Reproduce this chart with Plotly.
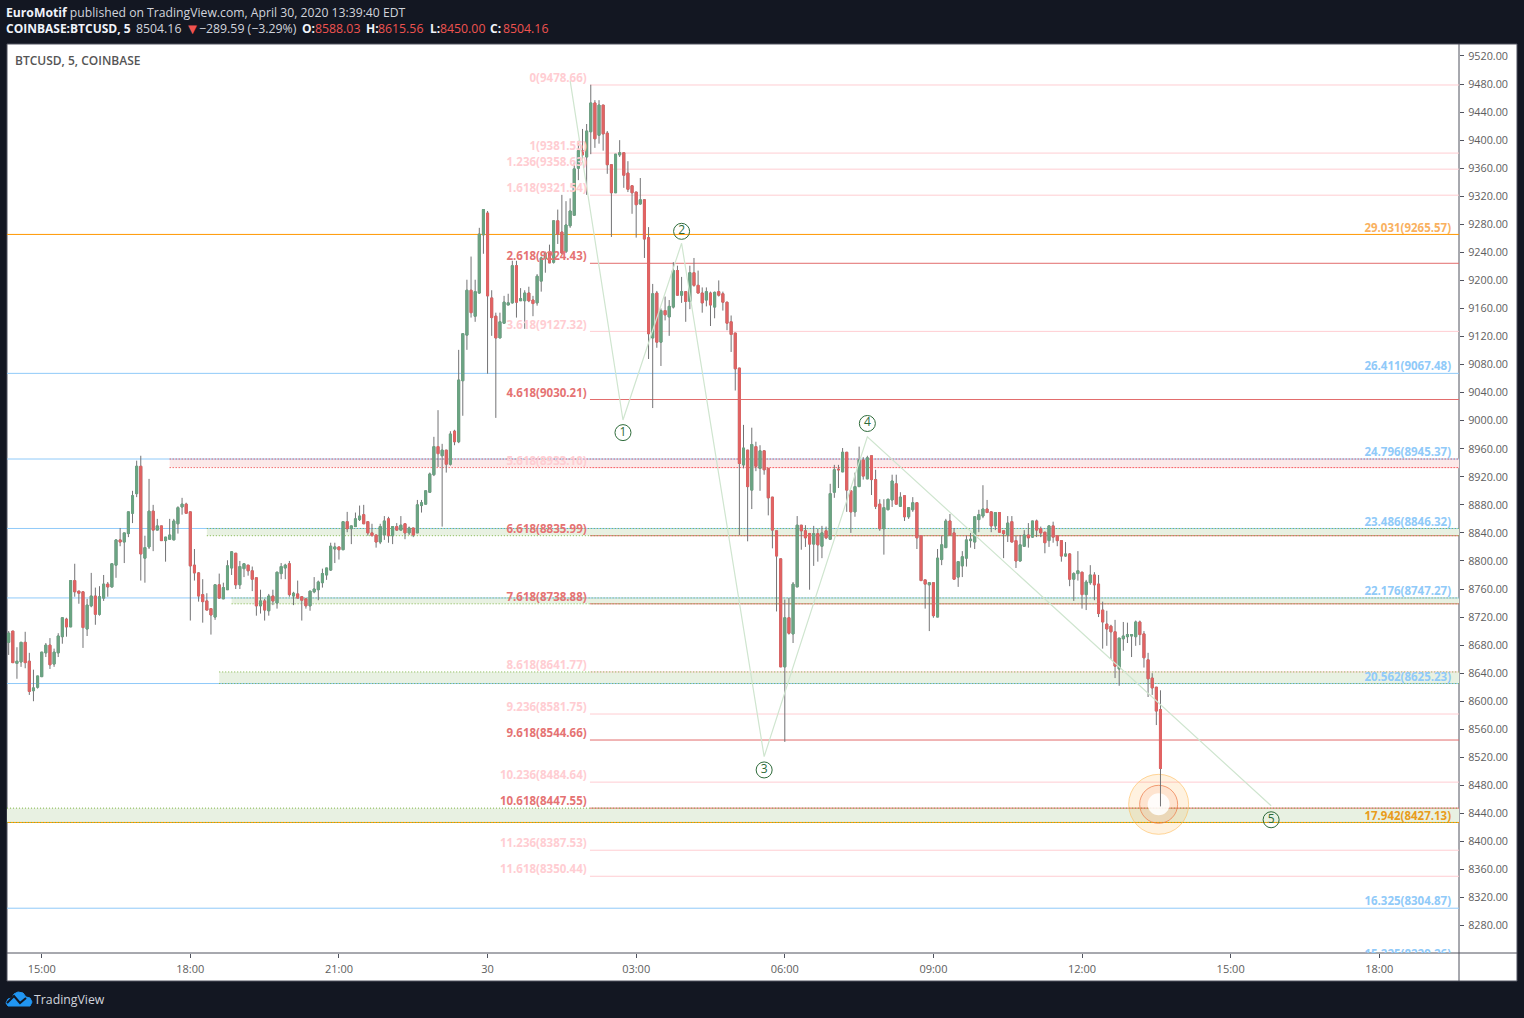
import pandas as pd
import plotly.graph_objects as go

opens = [8684,8700,8654,8656,8684,8657,8615,8620,8635,8669,
 8680,8653,8669,8692,8717,8706,8772,8757,8756,8703,
 8736,8750,8724,8747,8767,8763,8794,8830,8827,8839,
 8868,8896,8935,8804,8820,8871,8844,8850,8829,8831,
 8830,8853,8877,8881,8870,8794,8783,8752,8743,8732,
 8720,8766,8746,8759,8790,8811,8766,8789,8794,8786,
 8776,8736,8743,8729,8750,8740,8782,8790,8796,8750,
 8753,8749,8746,8736,8756,8759,8769,8780,8787,8817,
 8820,8816,8856,8846,8849,8859,8866,8856,8840,8837,
 8827,8837,8860,8836,8849,8844,8853,8840,8847,8840,
 8879,8881,8898,8923,8963,8950,8958,8938,8985,8970,
 9057,9122,9186,9149,9182,9265,9296,9175,9149,9118,
 9139,9165,9168,9221,9171,9171,9182,9172,9168,9199,
 9231,9239,9226,9285,9269,9241,9278,9293,9360,9385,
 9376,9412,9453,9407,9450,9410,9365,9325,9379,9382,
 9353,9335,9326,9309,9315,9261,9118,9182,9112,9157,
 9148,9162,9214,9179,9184,9170,9211,9193,9182,9172,
 9182,9162,9184,9181,9169,9141,9125,9075,8937,8958,
 8901,8963,8932,8957,8932,8891,8843,8803,8649,8719,
 8696,8763,8851,8843,8839,8824,8839,8821,8843,8831,
 8898,8931,8927,8955,8900,8870,8906,8944,8917,8950,
 8916,8881,8846,8873,8887,8910,8878,8893,8863,8873,
 8883,8836,8773,8766,8769,8720,8802,8819,8857,8840,
 8777,8793,8804,8829,8827,8859,8864,8874,8870,8850,
 8869,8843,8837,8856,8829,8800,8821,8837,8834,8857,
 8846,8841,8829,8850,8836,8829,8807,8810,8774,8782,
 8784,8752,8769,8780,8767,8730,8710,8707,8699,8646,
 8689,8692,8693,8692,8713,8696,8659,8633,8620,8588.03]
highs = [8700,8700,8677,8684,8699,8669,8645,8636,8670,8683,
 8690,8675,8697,8720,8719,8772,8796,8757,8756,8746,
 8783,8762,8764,8780,8770,8796,8830,8847,8840,8870,
 8900,8943,8950,8836,8917,8880,8860,8850,8834,8860,
 8860,8878,8890,8883,8870,8817,8784,8774,8754,8732,
 8766,8782,8769,8801,8814,8811,8800,8796,8794,8792,
 8776,8759,8746,8753,8759,8784,8797,8796,8800,8756,
 8772,8749,8746,8757,8777,8772,8789,8790,8826,8826,
 8820,8856,8870,8850,8869,8879,8880,8856,8853,8837,
 8853,8864,8863,8849,8854,8864,8853,8849,8847,8887,
 8887,8900,8926,8977,9015,8967,8958,8985,8987,9101,
 9124,9201,9234,9201,9275,9301,9299,9186,9154,9154,
 9178,9181,9228,9228,9189,9186,9191,9178,9209,9234,
 9241,9251,9285,9301,9322,9313,9317,9368,9399,9416,
 9423,9479,9457,9457,9450,9413,9366,9380,9400,9382,
 9370,9335,9326,9346,9316,9276,9195,9185,9160,9177,
 9172,9226,9221,9205,9184,9221,9232,9214,9190,9190,
 9184,9184,9200,9184,9169,9150,9125,9075,8994,8958,
 8990,8970,8965,8957,8932,8891,8843,8803,8745,8747,
 8770,8864,8851,8851,8840,8850,8846,8850,8849,8910,
 8937,8937,8961,8955,8900,8926,8963,8948,8950,8950,
 8930,8888,8888,8888,8923,8923,8898,8893,8876,8891,
 8883,8836,8773,8770,8769,8817,8836,8860,8867,8847,
 8799,8814,8836,8840,8863,8873,8908,8887,8870,8869,
 8869,8843,8864,8864,8836,8837,8844,8854,8857,8859,
 8849,8841,8850,8856,8836,8829,8827,8811,8784,8814,
 8784,8773,8794,8784,8780,8742,8729,8709,8716,8690,
 8713,8712,8695,8715,8715,8700,8669,8640,8620,8615.56]
lows = [8666,8655,8632,8649,8647,8609,8600,8618,8635,8663,
 8646,8649,8663,8682,8692,8706,8749,8739,8676,8693,
 8734,8709,8722,8743,8749,8762,8776,8821,8797,8834,
 8854,8891,8772,8769,8817,8814,8844,8829,8799,8831,
 8830,8839,8866,8867,8715,8772,8742,8712,8730,8695,
 8716,8746,8746,8759,8780,8760,8760,8777,8779,8757,
 8722,8725,8715,8722,8737,8732,8774,8774,8749,8737,
 8747,8715,8732,8729,8754,8744,8762,8773,8786,8797,
 8802,8816,8841,8824,8849,8857,8853,8836,8836,8819,
 8824,8830,8826,8824,8843,8844,8831,8837,8834,8840,
 8869,8881,8897,8921,8934,8849,8926,8936,8965,8968,
 9007,9101,9147,9141,9181,9238,9067,9121,9004,9118,
 9139,9165,9167,9147,9171,9131,9169,9149,9164,9184,
 9211,9225,9224,9252,9238,9239,9275,9293,9343,9368,
 9322,9380,9389,9395,9385,9352,9262,9325,9376,9332,
 9326,9295,9261,9308,9232,9088,9018,9104,9078,9143,
 9121,9160,9179,9168,9141,9159,9191,9182,9154,9163,
 9135,9146,9177,9157,9129,9098,9043,8837,8932,8828,
 8874,8928,8900,8923,8865,8818,8728,8649,8542,8695,
 8683,8763,8816,8820,8759,8793,8799,8804,8831,8831,
 8890,8904,8927,8870,8840,8863,8906,8916,8917,8894,
 8874,8843,8809,8873,8877,8881,8877,8857,8860,8870,
 8817,8772,8732,8700,8719,8720,8794,8819,8836,8774,
 8763,8777,8792,8819,8817,8841,8861,8869,8841,8844,
 8841,8804,8827,8827,8790,8799,8820,8819,8833,8834,
 8834,8811,8820,8826,8821,8799,8806,8764,8743,8772,
 8732,8730,8766,8744,8720,8675,8679,8660,8633,8622,
 8672,8683,8663,8679,8680,8648,8606,8609,8566,8450]
closes = [8697,8655,8657,8684,8655,8614,8619,8636,8670,8680,
 8652,8670,8693,8719,8706,8772,8756,8754,8705,8737,
 8750,8724,8749,8767,8763,8796,8830,8827,8840,8870,
 8893,8935,8810,8819,8871,8844,8850,8829,8834,8837,
 8857,8876,8881,8868,8793,8783,8750,8742,8730,8723,
 8766,8747,8762,8793,8813,8766,8792,8796,8786,8774,
 8736,8743,8730,8750,8743,8784,8792,8794,8752,8754,
 8747,8744,8736,8757,8760,8770,8782,8790,8821,8820,
 8816,8856,8846,8850,8860,8864,8853,8840,8836,8827,
 8849,8857,8836,8849,8844,8851,8840,8847,8837,8880,
 8883,8900,8924,8963,8953,8958,8938,8981,8970,9058,
 9124,9186,9154,9184,9266,9301,9178,9147,9118,9141,
 9169,9168,9221,9169,9174,9182,9171,9167,9206,9232,
 9239,9225,9285,9266,9239,9279,9299,9359,9385,9379,
 9413,9453,9402,9450,9409,9365,9325,9380,9382,9350,
 9330,9325,9308,9315,9259,9124,9181,9112,9157,9151,
 9163,9214,9179,9184,9170,9211,9193,9182,9168,9184,
 9165,9183,9179,9169,9139,9123,9074,8939,8961,8906,
 8966,8935,8957,8930,8890,8844,8807,8649,8719,8697,
 8767,8851,8843,8833,8824,8839,8823,8840,8833,8896,
 8930,8930,8955,8901,8870,8906,8944,8921,8947,8916,
 8878,8846,8876,8888,8914,8881,8891,8863,8876,8883,
 8833,8772,8767,8769,8722,8804,8823,8857,8837,8774,
 8799,8806,8830,8831,8863,8866,8874,8869,8850,8869,
 8841,8839,8854,8827,8800,8823,8837,8833,8857,8844,
 8840,8826,8850,8834,8829,8807,8810,8774,8782,8786,
 8752,8770,8780,8766,8725,8713,8703,8699,8650,8690,
 8693,8695,8695,8713,8695,8662,8632,8619,8586,8504.16]

times = pd.date_range("2020-04-29 14:20", periods=len(closes), freq="5min")

# Fibonacci extension levels, left group (anchored at the high)
ext_ratios = ["0","1","1.236","1.618","2.618","3.618","4.618","5.618","6.618","7.618",
              "8.618","9.236","9.618","10.236","10.618","11.236","11.618"]
ext_prices = [9478.66,9381.55,9358.63,9321.54,9224.43,9127.32,9030.21,8933.10,8835.99,8738.88,
              8641.77,8581.75,8544.66,8484.64,8447.55,8387.53,8350.44]
ext_strong = ["2.618","4.618","6.618","7.618","9.618","10.618"]
ext_start = "2020-04-30 02:04"
ext_label_time = "2020-04-30 02:00"

# Right group spanning the chart
ret_ratios = ["29.031","26.411","24.796","23.486","22.176","20.562","17.942","16.325","15.225"]
ret_prices = [9265.57,9067.48,8945.37,8846.32,8747.27,8625.23,8427.13,8304.87,8229.26]
ret_colors = ["#f9b15f","#90caf9","#90caf9","#90caf9","#90caf9","#90caf9","#e89c1c","#90caf9","#90caf9"]
ret_line_colors = ["#ff9800","#90caf9","#90caf9","#90caf9","#90caf9","#90caf9","#ff9800","#90caf9","#90caf9"]
ret_label_time = "2020-04-30 19:27"

# Zones
zone_top = [8945.37,8846.32,8747.27,8641.77,8447.55]
zone_bot = [8933.10,8835.99,8738.88,8625.23,8427.13]
zone_start = ["2020-04-29 17:35","2020-04-29 18:20","2020-04-29 18:50","2020-04-29 18:35","2020-04-29 14:18"]
zone_kind = ["red","green","green","green","green"]

# Elliott wave
wave_times = ["2020-04-30 01:40","2020-04-30 02:44","2020-04-30 03:55","2020-04-30 05:35","2020-04-30 07:40","2020-04-30 15:49"]
wave_prices = [9485,9001,9253,8521,8977,8451]
wave_labels = ["1","2","3","4","5"]
wave_label_prices = [8983,9270,8502,8996,8431]

tick_prices = list(range(8280, 9521, 40))
tick_times = ["2020-04-29 15:00","2020-04-29 18:00","2020-04-29 21:00","2020-04-30 00:00","2020-04-30 03:00",
              "2020-04-30 06:00","2020-04-30 09:00","2020-04-30 12:00","2020-04-30 15:00","2020-04-30 18:00"]
tick_time_text = ["15:00","18:00","21:00","30","03:00","06:00","09:00","12:00","15:00","18:00"]

X_RANGE = ["2020-04-29 14:17:58","2020-04-30 19:36:34"]
Y_RANGE = [8241.0, 9537.1]

BG = "#131722"; UP = "#6ba583"; DOWN = "#e26363"; WICK = "#737375"
FONT = "Open Sans"

def px(x): return (x - 7) / 1452
def py(y): return (953 - y) / 909

fig = go.Figure()
fig.add_trace(go.Candlestick(x=times, open=opens, high=highs, low=lows, close=closes,
    increasing=dict(line=dict(color=WICK, width=1), fillcolor=WICK),
    decreasing=dict(line=dict(color=WICK, width=1), fillcolor=WICK),
    whiskerwidth=0, hoverinfo="skip"))
body_hi = [max(o, c) for o, c in zip(opens, closes)]
body_lo = [min(o, c) for o, c in zip(opens, closes)]
fig.add_trace(go.Candlestick(x=times, open=opens, high=body_hi, low=body_lo, close=closes,
    increasing=dict(line=dict(color=UP, width=1), fillcolor=UP),
    decreasing=dict(line=dict(color=DOWN, width=1), fillcolor=DOWN),
    whiskerwidth=0, hoverinfo="skip"))

shapes = []
# Panels and frame
shapes.append(dict(type="rect", xref="paper", yref="paper", x0=px(7), x1=px(1517), y0=py(981), y1=py(44),
                   fillcolor="white", line=dict(color="#50535e", width=1), layer="below"))
shapes.append(dict(type="line", xref="paper", yref="paper", x0=px(7), x1=px(1517), y0=py(953), y1=py(953),
                   line=dict(color="#50535e", width=1), layer="below"))
shapes.append(dict(type="line", xref="paper", yref="paper", x0=px(1459), x1=px(1459), y0=py(981), y1=py(44),
                   line=dict(color="#50535e", width=1), layer="below"))
# Zone fills
for top, bot, st, kind in zip(zone_top, zone_bot, zone_start, zone_kind):
    fill = "#fce9e9" if kind == "red" else "#e8f1e2"
    shapes.append(dict(type="rect", xref="x", yref="y", x0=st, x1=X_RANGE[1], y0=bot, y1=top,
                       fillcolor=fill, line=dict(width=0), layer="below"))
# Levels
for r, p in zip(ext_ratios, ext_prices):
    col = "#e26d6d" if r in ext_strong else "#ffcdd2"
    shapes.append(dict(type="line", xref="x", yref="y", x0=ext_start, x1=X_RANGE[1], y0=p, y1=p,
                       line=dict(color=col, width=1), layer="below"))
for col, p in zip(ret_line_colors, ret_prices):
    shapes.append(dict(type="line", xref="x", yref="y", x0=X_RANGE[0], x1=X_RANGE[1], y0=p, y1=p,
                       line=dict(color=col, width=1), layer="below"))
# Zone dotted edges
for top, bot, st, kind in zip(zone_top, zone_bot, zone_start, zone_kind):
    edge = "#ef2b2b" if kind == "red" else "#7cb342"
    for lvl in (top, bot):
        shapes.append(dict(type="line", xref="x", yref="y", x0=st, x1=X_RANGE[1], y0=lvl, y1=lvl,
                           line=dict(color=edge, width=1, dash="1px,2px"), layer="below"))
# Highlight rings on the last bar
ring_t, ring_p = pd.Timestamp("2020-04-30 13:32:48"), 8453
for r, fill, edge in [(30, "rgba(255,152,0,0.12)", "rgba(255,183,77,0.55)"),
                      (19, "rgba(244,110,70,0.10)", "rgba(236,120,70,0.7)"),
                      (11, "rgba(255,255,255,0.88)", "rgba(255,255,255,0)")]:
    shapes.append(dict(type="circle", xref="x", yref="y", xsizemode="pixel", ysizemode="pixel",
                       xanchor=ring_t, yanchor=ring_p, x0=-r, x1=r, y0=-r, y1=r,
                       fillcolor=fill, line=dict(color=edge, width=1), layer="below"))
# TradingView logo
cloud = [(6,1003),(8,999),(12,998),(14,994),(18,992),(23,993),(26,997),(30,998),(32,1002),(30,1006),(8,1006)]
path = "M " + " L ".join(f"{px(a):.5f},{py(b):.5f}" for a, b in cloud) + " Z"
shapes.append(dict(type="path", xref="paper", yref="paper", path=path, fillcolor="#2196f3", line=dict(color="#2196f3", width=1)))
zig = [(7,1003),(14,996),(20,1003),(26,998)]
path2 = "M " + " L ".join(f"{px(a):.5f},{py(b):.5f}" for a, b in zig)
shapes.append(dict(type="path", xref="paper", yref="paper", path=path2, line=dict(color=BG, width=2)))

# Wave line
fig.add_trace(go.Scatter(x=wave_times, y=wave_prices, mode="lines",
                         line=dict(color="#cfe5cf", width=1.2), hoverinfo="skip"))
fig.add_trace(go.Scatter(x=wave_times[1:], y=wave_label_prices, mode="markers+text", text=wave_labels,
                         textposition="middle center", textfont=dict(family=FONT, size=12, color="#2e6b3a"),
                         marker=dict(size=16, color="rgba(0,0,0,0)", line=dict(color="#2e6b3a", width=1)),
                         hoverinfo="skip"))
# Level labels
ext_text = [f"{r}({p:.2f})" for r, p in zip(ext_ratios, ext_prices)]
ext_cols = ["#e57373" if r in ext_strong else "#ffcdd2" for r in ext_ratios]
fig.add_trace(go.Scatter(x=[ext_label_time]*len(ext_prices), y=ext_prices, mode="text", text=ext_text,
                         textposition="top left", textfont=dict(family=FONT, size=11.5, color=ext_cols, weight=700),
                         hoverinfo="skip"))
ret_text = [f"{r}({p:.2f})" for r, p in zip(ret_ratios, ret_prices)]
fig.add_trace(go.Scatter(x=[ret_label_time]*len(ret_prices), y=ret_prices, mode="text", text=ret_text,
                         textposition="top left", textfont=dict(family=FONT, size=11.5, color=ret_colors, weight=700),
                         hoverinfo="skip"))

RED = "#ef5350"; WHITE = "#f0f3fa"
header = [
    ('<b>EuroMotif</b> <span style="color:#d1d4dc">published on TradingView.com, April 30, 2020 13:39:40 EDT</span>', 6, 12, WHITE, 12.2),
    ('<b>COINBASE:BTCUSD, 5</b>', 6, 29, WHITE, 12),
    ('8504.16', 135.5, 29, "#d1d4dc", 12.3),
    ('▼', 184.5, 28, "#ef5350", 15),
    ('−289.59 (−3.29%)', 198.5, 29, "#d1d4dc", 12.3),
    ('<b>O:</b>', 301.5, 29, WHITE, 12), ('8588.03', 315, 29, RED, 12.3),
    ('<b>H:</b>', 365.5, 29, WHITE, 12), ('8615.56', 378, 29, RED, 12.3),
    ('<b>L:</b>', 430, 29, WHITE, 12), ('8450.00', 440, 29, RED, 12.3),
    ('<b>C:</b>', 490.5, 29, WHITE, 12), ('8504.16', 502.5, 29, RED, 12.3),
]
annotations = [dict(text=t, x=px(a - 2), y=py(b), xref="paper", yref="paper", xanchor="left", yanchor="middle",
                    showarrow=False, font=dict(family=FONT, size=s, color=c), align="left")
               for t, a, b, c, s in header]
annotations += [
    dict(text="BTCUSD, 5, COINBASE", x=px(13), y=py(60.5), xref="paper", yref="paper", xanchor="left", yanchor="middle",
         showarrow=False, font=dict(family=FONT, size=12, color="#555555", weight=600)),
    dict(text="TradingView", x=px(32), y=py(999), xref="paper", yref="paper", xanchor="left", yanchor="middle",
         showarrow=False, font=dict(family=FONT, size=12.3, color="#d1d4dc")),
]

fig.update_layout(
    width=1524, height=1018, margin=dict(l=7, r=65, t=44, b=65, pad=0),
    paper_bgcolor=BG, plot_bgcolor="white", showlegend=False, hovermode=False,
    shapes=shapes, annotations=annotations, font=dict(family=FONT, size=12, color="#555555"),
    xaxis=dict(range=X_RANGE, type="date", rangeslider=dict(visible=False), showgrid=False, zeroline=False,
               tickmode="array", tickvals=tick_times, ticktext=tick_time_text, ticks="outside", ticklen=4, tickwidth=1,
               tickcolor="#50535e", showline=False, ticklabelstandoff=2, tickfont=dict(family=FONT, size=11, color="#5e5e5e")),
    yaxis=dict(range=Y_RANGE, side="right", showgrid=False, zeroline=False, tickmode="array",
               tickvals=tick_prices, ticktext=[f"{v:.2f}" for v in tick_prices], ticks="outside", ticklen=4, tickwidth=1,
               tickcolor="#50535e", showline=False, ticklabelstandoff=2, tickfont=dict(family=FONT, size=10.8, color="#5e5e5e")),
)

fig.write_html("out.html", config=dict(displayModeBar=False),
               post_script="document.body.style.margin='0';document.body.style.background='#131722';document.body.style.overflow='hidden';")
